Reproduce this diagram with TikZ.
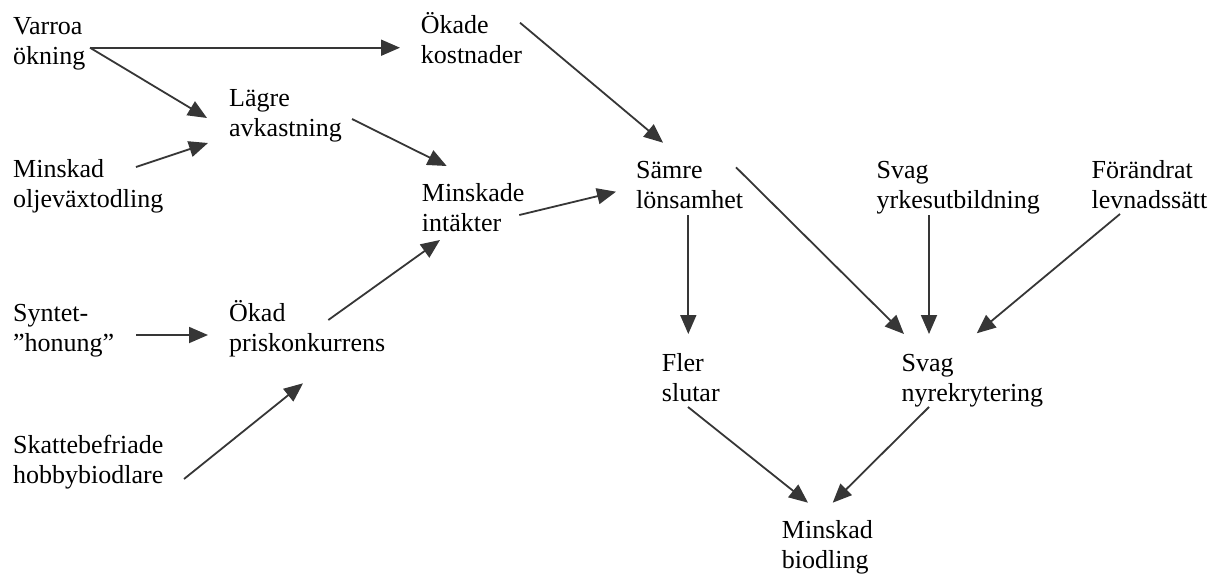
\documentclass[tikz,border=0pt]{standalone}
\usepackage{fontspec}
\setmainfont{Liberation Serif}
\usetikzlibrary{arrows.meta}
\definecolor{arrowgray}{HTML}{363636}
\tikzset{
  lbl/.style={anchor=base west, inner sep=0pt, align=left, font=\fontsize{26}{30}\selectfont},
  conn/.style={draw=arrowgray, line width=1.8pt, -{Triangle[length=19pt,width=16pt]}, arrowgray}
}
\begin{document}
\begin{tikzpicture}[x=1pt,y=-1pt]
\useasboundingbox (0,0) rectangle (1212,574);
% labels (anchor = baseline of the last line)
\node[lbl] (varroa) at (13,64.3) {Varroa\\ökning};
\node[lbl] (okade) at (420.7,63.3) {Ökade\\kostnader};
\node[lbl] (lagre) at (229,136) {Lägre\\avkastning};
\node[lbl] (olje) at (13,207) {Minskad\\oljeväxtodling};
\node[lbl] (intakter) at (421.7,231.7) {Minskade\\intäkter};
\node[lbl] (samre) at (636,208.5) {Sämre\\lönsamhet};
\node[lbl] (yrkes) at (876.5,208.5) {Svag\\yrkesutbildning};
\node[lbl] (levnad) at (1091.5,208) {Förändrat\\levnadssätt};
\node[lbl] (syntet) at (13,351.7) {Syntet-\\”honung”};
\node[lbl] (pris) at (229,351.7) {Ökad\\priskonkurrens};
\node[lbl] (skatte) at (13,483) {Skattebefriade\\hobbybiodlare};
\node[lbl] (fler) at (661.7,401.2) {Fler\\slutar};
\node[lbl] (nyrek) at (901.5,401.2) {Svag\\nyrekrytering};
\node[lbl] (biodling) at (781.7,568.3) {Minskad\\biodling};
% connector ends
\coordinate (varroa-o) at (90,47.7);
\coordinate (okade-i) at (400,47.7);
\coordinate (lagre-i1) at (207,118);
\coordinate (olje-o) at (136,167);
\coordinate (lagre-i2) at (208,143);
\coordinate (lagre-o) at (352,119);
\coordinate (intakter-i1) at (446.7,166);
\coordinate (okade-o) at (520,22.7);
\coordinate (samre-i1) at (663,142.7);
\coordinate (intakter-o) at (519.3,215);
\coordinate (samre-i2) at (616,191.7);
\coordinate (syntet-o) at (136,335);
\coordinate (pris-i1) at (208,335);
\coordinate (pris-o) at (328.3,320);
\coordinate (intakter-i2) at (440,240);
\coordinate (skatte-o) at (184,479);
\coordinate (pris-i2) at (303,383.3);
\coordinate (samre-o1) at (688.3,215);
\coordinate (fler-i) at (688.3,334);
\coordinate (samre-o2) at (736,167.3);
\coordinate (nyrek-i1) at (904,334);
\coordinate (yrkes-o) at (929,215);
\coordinate (nyrek-i2) at (929,334);
\coordinate (levnad-o) at (1120,214);
\coordinate (nyrek-i3) at (976.7,333.3);
\coordinate (fler-o) at (688,407);
\coordinate (biodling-i1) at (808,502.7);
\coordinate (nyrek-o) at (929,407);
\coordinate (biodling-i2) at (832.7,502.7);
% connectors
\draw[conn] (varroa-o) -- (okade-i);
\draw[conn] (varroa-o) -- (lagre-i1);
\draw[conn] (olje-o) -- (lagre-i2);
\draw[conn] (lagre-o) -- (intakter-i1);
\draw[conn] (okade-o) -- (samre-i1);
\draw[conn] (intakter-o) -- (samre-i2);
\draw[conn] (syntet-o) -- (pris-i1);
\draw[conn] (pris-o) -- (intakter-i2);
\draw[conn] (skatte-o) -- (pris-i2);
\draw[conn] (samre-o1) -- (fler-i);
\draw[conn] (samre-o2) -- (nyrek-i1);
\draw[conn] (yrkes-o) -- (nyrek-i2);
\draw[conn] (levnad-o) -- (nyrek-i3);
\draw[conn] (fler-o) -- (biodling-i1);
\draw[conn] (nyrek-o) -- (biodling-i2);
\end{tikzpicture}
\end{document}
